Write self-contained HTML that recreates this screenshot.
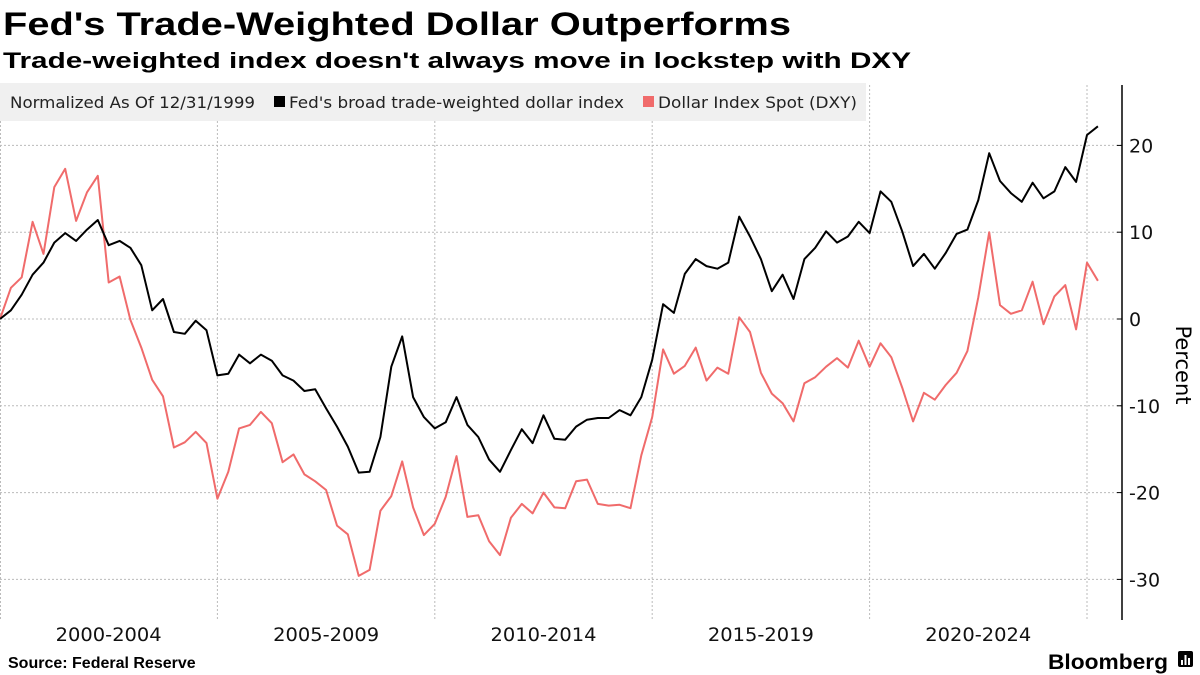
<!DOCTYPE html>
<html><head><meta charset="utf-8"><style>
html,body{margin:0;padding:0;background:#fff;width:1200px;height:675px;overflow:hidden}
svg{display:block;font-family:"Liberation Sans",sans-serif}
.dv{font-family:"DejaVu Sans","Liberation Sans",sans-serif}
</style></head><body>
<svg id="chart" width="1200" height="675" viewBox="0 0 1200 675">
<text x="3" y="35" font-size="32" font-weight="bold" textLength="788" lengthAdjust="spacingAndGlyphs">Fed's Trade-Weighted Dollar Outperforms</text>
<text x="3" y="68" font-size="22" font-weight="bold" textLength="908" lengthAdjust="spacingAndGlyphs">Trade-weighted index doesn't always move in lockstep with DXY</text>
<g id="grid"></g>
<g>
<rect x="0" y="83" width="866" height="38" fill="#f0f0f0"/>
<text class="dv" x="10" y="108" font-size="16" fill="#222" textLength="245" lengthAdjust="spacingAndGlyphs">Normalized As Of 12/31/1999</text>
<rect x="274" y="96" width="11" height="11" fill="#000"/>
<text class="dv" x="289" y="108" font-size="16" fill="#222" textLength="335" lengthAdjust="spacingAndGlyphs">Fed's broad trade-weighted dollar index</text>
<rect x="643" y="96" width="11" height="11" fill="#f06b6b"/>
<text class="dv" x="658" y="108" font-size="16" fill="#222" textLength="199" lengthAdjust="spacingAndGlyphs">Dollar Index Spot (DXY)</text>
</g>
<g id="series"></g>
<g id="axis"></g>
<g id="xaxis"></g>
<text class="dv" x="0" y="0" font-size="21" transform="translate(1176,365) rotate(90)" text-anchor="middle">Percent</text>
<text x="8" y="668" font-size="16" font-weight="bold">Source: Federal Reserve</text>
<text x="1048" y="669" font-size="21" font-weight="bold" textLength="120" lengthAdjust="spacingAndGlyphs">Bloomberg</text>
<g><rect x="1178" y="651" width="15" height="16" rx="2" fill="#000"/><rect x="1181" y="660" width="2" height="5" fill="#fff"/><rect x="1184.5" y="655" width="2" height="10" fill="#fff"/><rect x="1188" y="658" width="2" height="7" fill="#fff"/></g>
</svg>
<script>
const fedValues=[0,1.0,2.8,5.1,6.5,8.8,9.9,9.0,10.3,11.4,8.5,9.0,8.2,6.2,1.0,2.3,-1.5,-1.7,-0.2,-1.3,-6.5,-6.3,-4.1,-5.1,-4.1,-4.8,-6.5,-7.1,-8.3,-8.1,-10.3,-12.4,-14.7,-17.7,-17.6,-13.6,-5.5,-2.0,-9.0,-11.3,-12.6,-11.9,-9.0,-12.2,-13.6,-16.2,-17.6,-15.1,-12.7,-14.3,-11.1,-13.8,-13.9,-12.4,-11.6,-11.4,-11.4,-10.5,-11.1,-9.0,-4.7,1.7,0.7,5.2,6.9,6.1,5.8,6.5,11.8,9.5,6.9,3.2,5.1,2.3,6.9,8.2,10.1,8.8,9.5,11.2,9.9,14.7,13.5,10.1,6.1,7.5,5.8,7.6,9.8,10.3,13.7,19.1,15.9,14.5,13.5,15.7,13.9,14.7,17.5,15.8,21.2,22.2];
const dxyValues=[0,3.6,4.8,11.2,7.5,15.2,17.3,11.3,14.6,16.5,4.2,4.9,-0.1,-3.3,-7.0,-8.9,-14.8,-14.2,-13.0,-14.3,-20.7,-17.6,-12.6,-12.2,-10.7,-12.0,-16.5,-15.6,-17.9,-18.7,-19.7,-23.8,-24.8,-29.6,-28.9,-22.1,-20.4,-16.4,-21.7,-24.9,-23.6,-20.5,-15.8,-22.8,-22.6,-25.6,-27.2,-22.9,-21.3,-22.4,-20.0,-21.7,-21.8,-18.7,-18.5,-21.3,-21.5,-21.4,-21.8,-15.7,-11.3,-3.5,-6.3,-5.4,-3.3,-7.1,-5.6,-6.3,0.2,-1.5,-6.2,-8.6,-9.7,-11.8,-7.4,-6.7,-5.5,-4.5,-5.6,-2.5,-5.5,-2.8,-4.4,-7.9,-11.8,-8.5,-9.3,-7.6,-6.2,-3.7,2.5,10.0,1.6,0.6,1.0,4.3,-0.6,2.6,3.9,-1.2,6.5,4.4];
const yTicks=[20,10,0,-10,-20,-30];
const periodLabels=["2000-2004","2005-2009","2010-2014","2015-2019","2020-2024"];
const NS="http://www.w3.org/2000/svg";
const xq=i=>i*10.87;
const yv=v=>319-v*8.68;
const plotRight=1122, plotTop=85, plotBottom=620;
function mk(tag,attrs,parent){const e=document.createElementNS(NS,tag);for(const k in attrs)e.setAttribute(k,attrs[k]);parent.appendChild(e);return e;}
const grid=document.getElementById('grid'), axis=document.getElementById('axis'), xaxis=document.getElementById('xaxis'), series=document.getElementById('series');
yTicks.forEach(t=>{
  const g=mk('line',{x1:0,x2:plotRight,y1:yv(t),y2:yv(t),stroke:'#bbb','stroke-width':1,'stroke-dasharray':'2,2'},grid);
  
  
  const tk=mk('line',{x1:plotRight-5,x2:plotRight,y1:yv(t),y2:yv(t),stroke:'#000','stroke-width':1},axis);
  
  
  const lb=mk('text',{x:plotRight+7,y:yv(t)+7,'font-size':19,fill:'#111','class':'dv'},axis);
  lb.textContent=(t<0?'-':'')+Math.abs(t);
  
  
});
const al=mk('line',{x1:plotRight,x2:plotRight,y1:plotTop,y2:plotBottom,stroke:'#000','stroke-width':1.5},axis);


periodLabels.forEach((p,k)=>{
  const xs=xq(20*(k+1));
  const v=mk('line',{x1:xs,x2:xs,y1:plotTop,y2:plotBottom,stroke:'#bbb','stroke-width':1,'stroke-dasharray':'2,2'},grid);
  
  
  const t=mk('text',{x:xq(20*k+10),y:641,'font-size':19,'text-anchor':'middle',fill:'#111','class':'dv',textLength:106,lengthAdjust:'spacingAndGlyphs'},xaxis);
  t.textContent=p;
  
  
});
const v0=mk('line',{x1:0.5,x2:0.5,y1:plotTop,y2:plotBottom,stroke:'#bbb','stroke-width':1,'stroke-dasharray':'2,2'},grid);


function drawLine(vals,color,name){
  const d=vals.map((v,i)=>(i?'L':'M')+xq(i).toFixed(1)+','+yv(v).toFixed(1)).join(' ');
  const p=mk('path',{d:d,fill:'none',stroke:color,'stroke-width':2,'stroke-linejoin':'round'},series);
  
  
}
drawLine(dxyValues,'#f06b6b','dxy-line');
drawLine(fedValues,'#000','fed-index-line');
</script>
</body></html>
